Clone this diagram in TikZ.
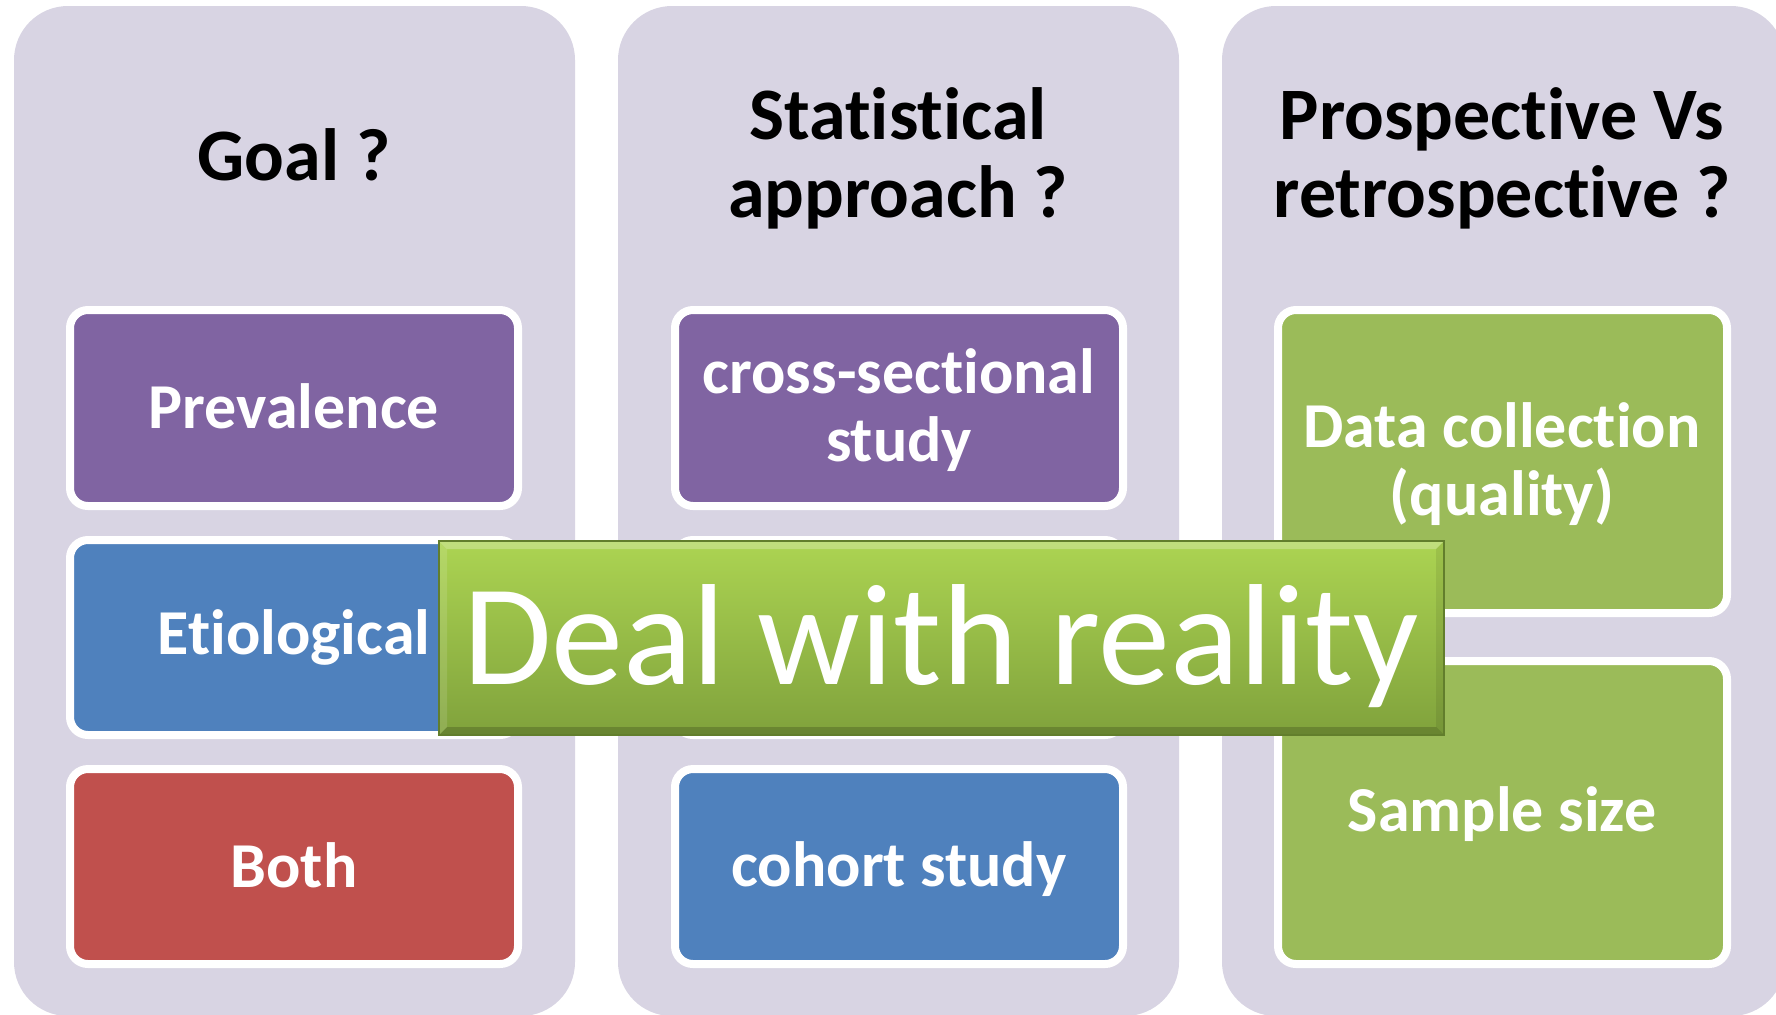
\documentclass[tikz,border=0pt]{standalone}
\usepackage{fontspec}
\setmainfont{Carlito}[RawFeature={-liga;-clig;-calt;-dlig}]
\usetikzlibrary{calc}
\definecolor{colbg}{RGB}{216,212,227}
\definecolor{cpurple}{RGB}{128,100,162}
\definecolor{cblue}{RGB}{79,129,189}
\definecolor{cred}{RGB}{192,80,77}
\definecolor{cgreen}{RGB}{155,187,89}
\definecolor{bantop}{RGB}{172,212,82}
\definecolor{banbot}{RGB}{128,162,60}
\definecolor{banedge}{RGB}{98,126,44}
\newcommand{\nti}{t\kern0pt i}
\tikzset{
  column/.style={fill=colbg, draw=none, rounded corners=27pt},
  itembox/.style={draw=white, line width=4pt, rounded corners=9pt},
  title/.style={font=\fontsize{37pt}{39pt}\selectfont\bfseries, align=center, text=black},
  label/.style={font=\fontsize{32pt}{34pt}\selectfont\bfseries, align=center, text=white},
  bantext/.style={font=\fontsize{72pt}{80pt}\selectfont, text=white, inner sep=0pt}
}
\begin{document}
\begin{tikzpicture}[x=0.5pt,y=-0.5pt]
\useasboundingbox (0,0) rectangle (1776,1014);
\fill[white] (0,0) rectangle (1776,1014);
% columns
\path[column] (14,6) rectangle (575,1016);
\path[column] (618,6) rectangle (1179,1016);
\path[column] (1222,6) rectangle (1785,1016);
% titles
\node[title] (t1) at (294,155) {Goal ?};
\node[title] (t2) at (898,158) {Statis\nti cal\\approach ?};
\node[title] (t3) at (1502,158) {Prospec\nti ve Vs\\retrospec\nti ve ?};
% column 1 boxes
\path[itembox, fill=cpurple] (70,310) rectangle (518,506);
\node[label] (prev) at (294,406) {Prevalence};
\path[itembox, fill=cblue] (70,540) rectangle (518,735);
\node[label] (etio) at (294,637) {E\nti ological};
\path[itembox, fill=cred] (70,769) rectangle (518,964);
\node[label] (both) at (294,865) {Both};
% column 2 boxes
\path[itembox, fill=cpurple] (675,310) rectangle (1123,506);
\node[label] (cross) at (899,410) {cross-sec\nti onal\\study};
\path[itembox, fill=cblue] (675,540) rectangle (1123,735);
\path[itembox, fill=cblue] (675,769) rectangle (1123,964);
\node[label] (coh) at (899,869) {cohort study};
% column 3 boxes
\path[itembox, fill=cgreen] (1278,310) rectangle (1727,613);
\node[label] (data) at (1502,464) {Data collec\nti on\\(quality)};
\path[itembox, fill=cgreen] (1278,661) rectangle (1727,964);
\node[label] (samp) at (1502,814) {Sample size};
% banner
\shade[top color=bantop, bottom color=banbot] (439,541) rectangle (1444,735);
\fill[white, opacity=0.25] (439,541) -- (1444,541) -- (1436,549) -- (447,549) -- cycle;
\fill[black, opacity=0.18] (439,735) -- (1444,735) -- (1436,727) -- (447,727) -- cycle;
\fill[black, opacity=0.08] (1444,541) -- (1444,735) -- (1436,727) -- (1436,549) -- cycle;
\fill[white, opacity=0.12] (439,541) -- (439,735) -- (447,727) -- (447,549) -- cycle;
\draw[banedge, line width=0.8pt] (439,541) rectangle (1444,735);
\node[bantext] (deal) at (941,646) {Deal with reality};
\end{tikzpicture}
\end{document}
